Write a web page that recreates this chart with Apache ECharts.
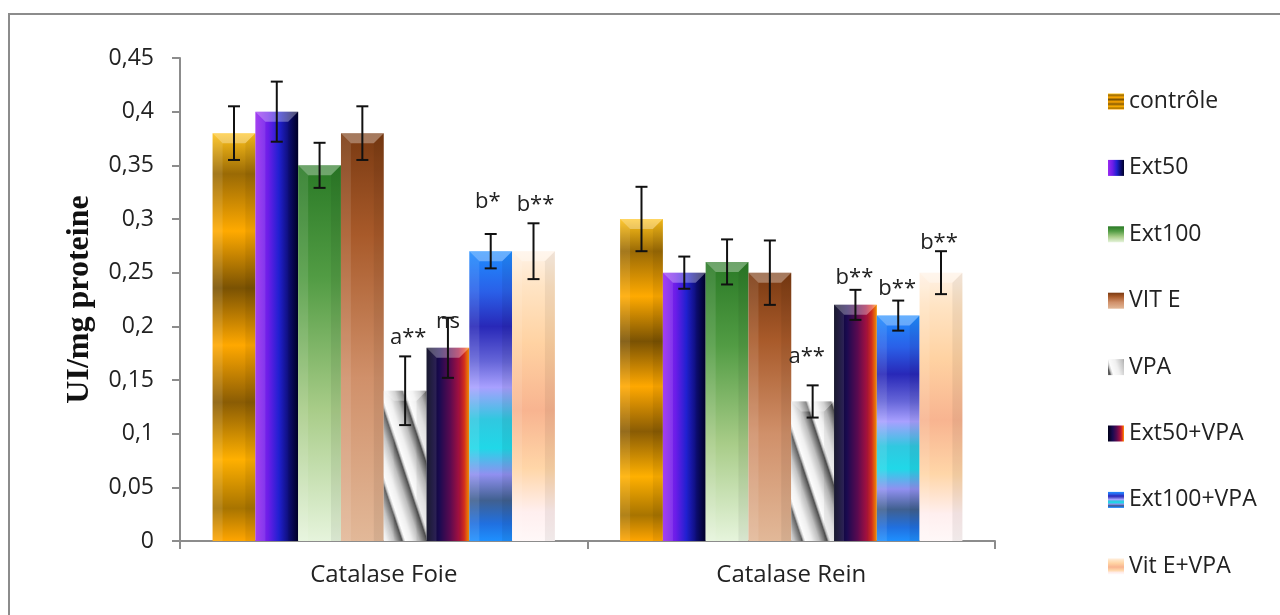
<!DOCTYPE html>
<html>
<head>
<meta charset="utf-8">
<script src="https://cdn.jsdelivr.net/npm/echarts@6/dist/echarts.min.js"></script>
<style>
html,body{margin:0;padding:0;background:#fff;}
#chart{width:1280px;height:615px;}
</style>
</head>
<body>
<div id="chart"></div>
<script>
// ---------------- DATA ----------------
const categories = ['Catalase Foie', 'Catalase Rein'];
const seriesNames = ['contrôle', 'Ext50', 'Ext100', 'VIT E', 'VPA', 'Ext50+VPA', 'Ext100+VPA', 'Vit E+VPA'];
const foieMeans = [0.38, 0.40, 0.35, 0.38, 0.14, 0.18, 0.27, 0.27];
const foieErr   = [0.025, 0.028, 0.021, 0.025, 0.032, 0.028, 0.016, 0.026];
const reinMeans = [0.30, 0.25, 0.26, 0.25, 0.13, 0.22, 0.21, 0.25];
const reinErr   = [0.030, 0.015, 0.021, 0.030, 0.015, 0.014, 0.014, 0.020];
const foieMarks = ['', '', '', '', 'a**', 'ns', 'b*', 'b**'];
const reinMarks = ['', '', '', '', 'a**', 'b**', 'b**', 'b**'];
const yMin = 0, yMax = 0.45, yStep = 0.05;

// ---------------- STYLE ----------------
const CAT_GAP = 0.16;
const foieLift = [0, 0, 0, 0, 19, -4, 32, 19];
const reinLift = [0, 0, 0, 0, 29, 12, 12, 8];
const foieShift = [0, 0, 0, 0, 3, 0, -3, 2];
const reinShift = [0, 0, 0, 0, -6, -1, -1, -2];

function lin(x, y, x2, y2, stops) {
  return { type: 'linear', x: x, y: y, x2: x2, y2: y2, global: false,
    colorStops: stops.map(s => ({ offset: s[0], color: s[1] })) };
}
function stripePattern() {
  const W = 25, H = 75, P = 75;
  const c = document.createElement('canvas');
  c.width = W; c.height = H;
  const ctx = c.getContext('2d');
  const img = ctx.createImageData(W, H);
  const pts = [[0, 252], [0.25, 240], [0.55, 190], [0.78, 110], [0.86, 80], [0.93, 200], [1, 252]];
  for (let y = 0; y < H; y++) {
    for (let x = 0; x < W; x++) {
      const p = (((3 * x - y) % P) + P) % P / P;
      let v = 250;
      for (let k = 0; k < pts.length - 1; k++) {
        if (p >= pts[k][0] && p <= pts[k + 1][0]) {
          const t = (p - pts[k][0]) / (pts[k + 1][0] - pts[k][0]);
          v = pts[k][1] + t * (pts[k + 1][1] - pts[k][1]);
          break;
        }
      }
      const i = (y * W + x) * 4;
      img.data[i] = v; img.data[i + 1] = v; img.data[i + 2] = v; img.data[i + 3] = 255;
    }
  }
  ctx.putImageData(img, 0, 0);
  return { image: c, repeat: 'repeat' };
}

const fills = [
  lin(0, 0, 0, 1, [[0, '#FFC21A'], [0.1, '#9A6A05'], [0.24, '#FFAA00'], [0.38, '#7A5203'], [0.52, '#FFA800'], [0.66, '#8A5C04'], [0.8, '#FFB000'], [0.92, '#A87400'], [1, '#FFA500']]),
  lin(0, 0, 1, 0, [[0, '#9A2BF0'], [0.3, '#6A1DE8'], [0.55, '#2020D0'], [0.8, '#0C0C70'], [1, '#000028']]),
  lin(0, 0, 0, 1, [[0, '#2A7A26'], [0.3, '#529C44'], [0.65, '#A8CC88'], [1, '#E6F4DC']]),
  lin(0, 0, 0, 1, [[0, '#7A3A12'], [0.25, '#A85A2A'], [0.6, '#D0906A'], [1, '#E2B898']]),
  stripePattern(),
  lin(0, 0, 1, 0, [[0, '#000018'], [0.3, '#1A0A50'], [0.55, '#5A0A50'], [0.75, '#A01040'], [0.88, '#E03020'], [1, '#FF9A00']]),
  lin(0, 0, 0, 1, [[0, '#1E8CFF'], [0.14, '#2A60E8'], [0.26, '#2828B8'], [0.38, '#6565D8'], [0.47, '#A8A0FF'], [0.58, '#30C8E0'], [0.68, '#20D8E8'], [0.77, '#9090F0'], [0.86, '#406090'], [0.94, '#2070E0'], [1, '#1E90FF']]),
  lin(0, 0, 0, 1, [[0, '#FFF2E6'], [0.12, '#FFE4C4'], [0.32, '#FFD2A2'], [0.55, '#F8B490'], [0.75, '#FFD6A8'], [0.9, '#FFEFEF'], [1, '#FFF8F8']])
];

const barSeries = seriesNames.map((name, i) => ({
  name: name,
  type: 'bar',
  data: [foieMeans[i], reinMeans[i]],
  barGap: '0%',
  barCategoryGap: (CAT_GAP * 100) + '%',
  itemStyle: { color: fills[i] },
  z: 2
}));

const errData = [];
seriesNames.forEach((n, i) => {
  errData.push([0, foieMeans[i], foieErr[i], i, foieMarks[i], foieLift[i], foieShift[i]]);
  errData.push([1, reinMeans[i], reinErr[i], i, reinMarks[i], reinLift[i], reinShift[i]]);
});

const nSeries = seriesNames.length;
const errSeries = {
  type: 'custom',
  name: 'err',
  data: errData,
  encode: { x: 0, y: 1 },
  z: 5,
  silent: true,
  renderItem: function (params, api) {
    const cat = api.value(0), mean = api.value(1), err = api.value(2), si = api.value(3);
    const d = errData[params.dataIndex];
    const mark = d[4], lift = d[5], shift = d[6];
    const band = api.size([1, 0])[0];
    const inner = band * (1 - CAT_GAP);
    const bw = inner / nSeries;
    const c = api.coord([cat, mean]);
    const x0 = c[0] - inner / 2 + si * bw;
    const x1 = x0 + bw;
    const xm = (x0 + x1) / 2;
    const yTop = api.coord([cat, mean + err])[1];
    const yBot = api.coord([cat, mean - err])[1];
    const yBar = c[1];
    const base = api.coord([cat, 0])[1];
    const bev = 10;
    const children = [
      { type: 'polygon', shape: { points: [[x0, yBar], [x1, yBar], [x1 - bev, yBar + bev], [x0 + bev, yBar + bev]] },
        style: { fill: 'rgba(255,255,255,0.32)' } },
      { type: 'polygon', shape: { points: [[x0, yBar], [x0 + bev, yBar + bev], [x0 + bev, base], [x0, base]] },
        style: { fill: 'rgba(255,255,255,0.10)' } },
      { type: 'polygon', shape: { points: [[x1, yBar], [x1 - bev, yBar + bev], [x1 - bev, base], [x1, base]] },
        style: { fill: 'rgba(0,0,0,0.06)' } },
      { type: 'line', shape: { x1: xm, y1: yTop, x2: xm, y2: yBot }, style: { stroke: '#111', lineWidth: 2 } },
      { type: 'line', shape: { x1: xm - 6, y1: yTop, x2: xm + 6, y2: yTop }, style: { stroke: '#111', lineWidth: 2 } },
      { type: 'line', shape: { x1: xm - 6, y1: yBot, x2: xm + 6, y2: yBot }, style: { stroke: '#111', lineWidth: 2 } }
    ];
    if (mark) {
      children.push({ type: 'text', style: { text: mark, x: xm + shift, y: yTop - lift,
        align: 'center', verticalAlign: 'middle', font: '22px "Open Sans"', fill: '#222' } });
    }
    return { type: 'group', children: children };
  }
};

const chart = echarts.init(document.getElementById('chart'), null, { renderer: 'canvas' });
chart.setOption({
  backgroundColor: '#fff',
  animation: false,
  graphic: [{ type: 'rect', shape: { x: 9, y: 14, width: 1400, height: 800 },
    style: { fill: 'none', stroke: '#8c8c8c', lineWidth: 2 }, z: -1 }],
  grid: { left: 180, right: 285, top: 58, bottom: 74, containLabel: false },
  legend: {
    data: seriesNames, orient: 'vertical', left: 1103, top: 85,
    itemWidth: 16, itemHeight: 16, itemGap: 43.4, icon: 'rect',
    textStyle: { fontFamily: 'Open Sans', fontSize: 23, color: '#222', lineHeight: 23 }
  },
  xAxis: {
    type: 'category', data: categories,
    axisLine: { lineStyle: { color: '#8c8c8c', width: 2 } },
    axisTick: { show: true, length: 8, lineStyle: { color: '#8c8c8c', width: 2 } },
    axisLabel: { fontFamily: 'Open Sans', fontSize: 24, color: '#222', margin: 22 }
  },
  yAxis: {
    type: 'value', min: yMin, max: yMax, interval: yStep,
    name: 'UI/mg proteine', nameLocation: 'middle', nameRotate: 90, nameGap: 84,
    nameTextStyle: { fontFamily: 'Liberation Serif', fontWeight: 'bold', fontSize: 32, color: '#111' },
    axisLine: { show: true, lineStyle: { color: '#8c8c8c', width: 2 } },
    axisTick: { show: true, length: 8, lineStyle: { color: '#8c8c8c', width: 2 } },
    splitLine: { show: false },
    axisLabel: { fontFamily: 'Open Sans', fontSize: 23, color: '#222', margin: 26,
      formatter: v => String(parseFloat(v.toFixed(2))).replace('.', ',') }
  },
  series: barSeries.concat([errSeries])
});
</script>
</body>
</html>
